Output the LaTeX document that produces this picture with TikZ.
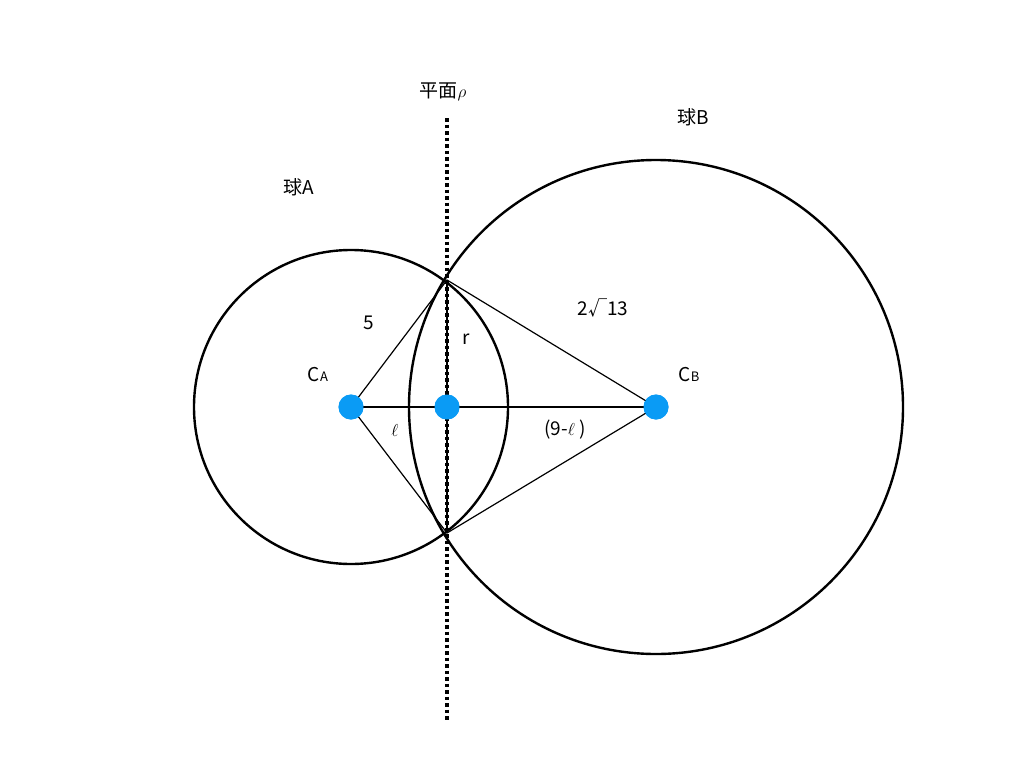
\documentclass[tikz,border=0pt]{standalone}
\usepackage{fontspec}
\setmainfont{Noto Sans CJK JP}
\begin{document}
\begin{tikzpicture}[x=1pt,y=-1pt,
  lbl/.style={font=\fontsize{19}{22}\selectfont},
  dot/.style={circle,fill={rgb,255:red,10;green,155;blue,245},minimum size=25pt,inner sep=0pt},
  thin line/.style={line width=1.2pt},
  thick line/.style={line width=2.4pt}]
\useasboundingbox (0,0) rectangle (1024,768);
\draw[thick line] (351,407) circle (157);
\draw[thick line] (656,407) circle (247);
\draw[line width=3.5pt,dash pattern=on 3.5pt off 3pt] (447,118) -- (447,722);
\coordinate (P) at (447,280);
\coordinate (Q) at (447,533);
\node[dot] (A) at (351,407) {};
\node[dot] (M) at (447,407) {};
\node[dot] (B) at (656,407) {};
\begin{scope}[on background layer/.style={}]
\draw[thin line] (A.center) -- (P) -- (B.center) -- (Q) -- cycle;
\draw[thin line] (A.center) -- (B.center);
\draw[thin line] (P) -- (Q);
\end{scope}
\node[dot] at (351,407) {};
\node[dot] at (447,407) {};
\node[dot] at (656,407) {};
\node[lbl] (t1) at (443,92) {平面$\rho$};
\node[lbl] (t2) at (693,117) {球B};
\node[lbl] (t3) at (299,187) {球A};
\node[lbl] (t4) at (369,323) {5};
\node[lbl] (t5) at (466,339) {r};
\node[lbl] (t6) at (603,308) {2√13};
\node[lbl] (t7) at (318,375) {C{\fontsize{13}{15}\selectfont A}};
\node[lbl] (t8) at (689,375) {C{\fontsize{13}{15}\selectfont B}};
\node[lbl] (t9) at (395,430) {$\ell$};
\node[lbl] (t10) at (565,430) {(9-$\ell$ )};
\end{tikzpicture}
\end{document}
